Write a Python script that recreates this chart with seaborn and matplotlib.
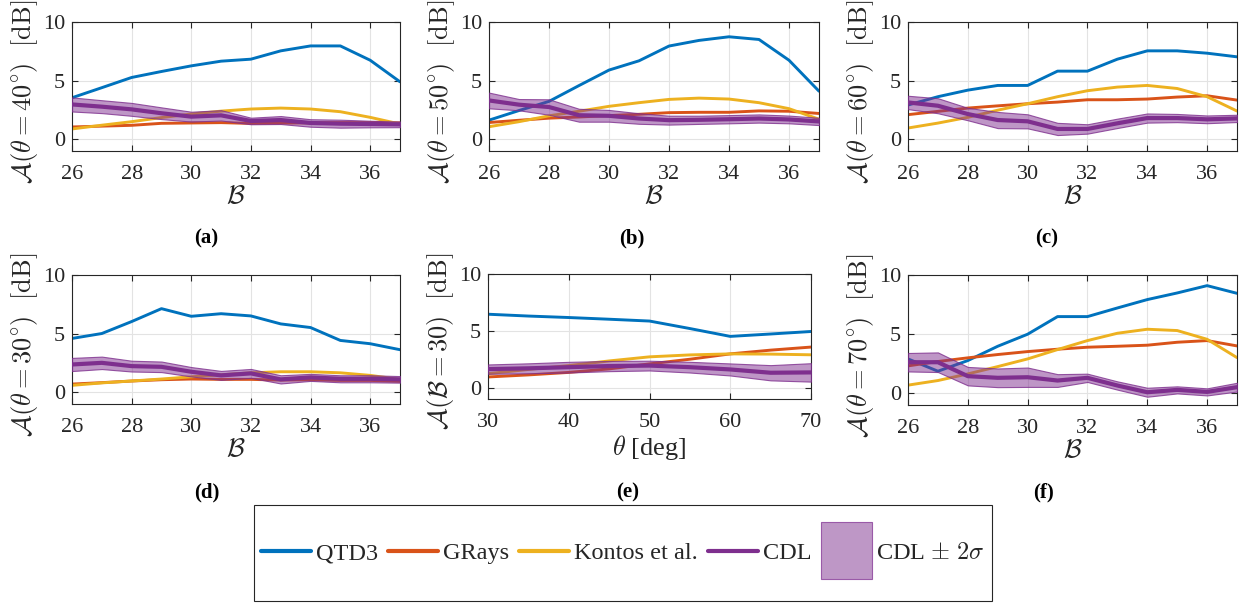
import numpy as np
import pandas as pd
import matplotlib
matplotlib.use("Agg")
import matplotlib.pyplot as plt
import matplotlib.patches as mpatches
from matplotlib.lines import Line2D
from matplotlib.legend_handler import HandlerPatch
import seaborn as sns

# x-Achsen
B = [26, 27, 28, 29, 30, 31, 32, 33, 34, 35, 36, 37]
theta = [30, 35, 40, 45, 50, 55, 60, 65, 70]

methods = ["QTD3", "GRays", "Kontos et al."]
colors = {"QTD3": "#0072BD", "GRays": "#D95319", "Kontos et al.": "#EDB120"}
cdl_color = "#7E2F8E"

# (a) theta = 40
qtd3_a = [3.54, 4.4, 5.27, 5.78, 6.26, 6.66, 6.83, 7.54, 7.96, 7.96, 6.74, 4.9]
grays_a = [1.05, 1.12, 1.19, 1.36, 1.39, 1.42, 1.35, 1.38, 1.4, 1.42, 1.42, 1.4]
kontos_a = [0.88, 1.2, 1.5, 1.85, 2.15, 2.4, 2.58, 2.66, 2.58, 2.35, 1.87, 1.3]
cdl_a = [2.97, 2.78, 2.55, 2.22, 1.93, 2.04, 1.56, 1.64, 1.39, 1.33, 1.3, 1.27]
cdl2s_a = [0.6, 0.55, 0.55, 0.5, 0.42, 0.44, 0.28, 0.34, 0.32, 0.34, 0.28, 0.24]

# (b) theta = 50
qtd3_b = [1.63, 2.45, 3.23, 4.58, 5.9, 6.69, 7.95, 8.43, 8.74, 8.51, 6.74, 4.1]
grays_b = [1.43, 1.62, 1.8, 1.9, 2.02, 2.13, 2.27, 2.3, 2.3, 2.42, 2.39, 2.2]
kontos_b = [1.07, 1.5, 2.0, 2.39, 2.81, 3.12, 3.4, 3.51, 3.43, 3.12, 2.61, 1.71]
cdl_b = [3.31, 2.95, 2.75, 2.05, 2.0, 1.77, 1.63, 1.66, 1.71, 1.77, 1.69, 1.52]
cdl2s_b = [0.67, 0.48, 0.66, 0.55, 0.5, 0.45, 0.38, 0.35, 0.35, 0.35, 0.33, 0.31]

# (c) theta = 60
qtd3_c = [2.92, 3.63, 4.19, 4.59, 4.59, 5.81, 5.81, 6.83, 7.54, 7.54, 7.34, 7.03]
grays_c = [2.1, 2.38, 2.66, 2.85, 3.03, 3.17, 3.37, 3.37, 3.43, 3.6, 3.71, 3.34]
kontos_c = [0.96, 1.38, 1.87, 2.48, 3.03, 3.63, 4.14, 4.45, 4.59, 4.33, 3.63, 2.41]
cdl_c = [3.14, 2.86, 2.15, 1.64, 1.53, 0.88, 0.88, 1.36, 1.81, 1.81, 1.7, 1.78]
cdl2s_c = [0.57, 0.64, 0.53, 0.69, 0.6, 0.52, 0.4, 0.4, 0.39, 0.35, 0.33, 0.31]

# (d) theta = 30
qtd3_d = [4.59, 5.01, 6.03, 7.13, 6.48, 6.7, 6.51, 5.83, 5.52, 4.42, 4.14, 3.63]
grays_d = [0.7, 0.82, 0.96, 1.07, 1.13, 1.1, 1.1, 1.04, 1.07, 1.01, 1.01, 0.93]
kontos_d = [0.59, 0.8, 0.96, 1.13, 1.32, 1.49, 1.66, 1.75, 1.75, 1.66, 1.44, 1.1]
cdl_d = [2.37, 2.51, 2.23, 2.17, 1.75, 1.44, 1.61, 1.1, 1.27, 1.15, 1.15, 1.1]
cdl2s_d = [0.56, 0.53, 0.46, 0.45, 0.4, 0.38, 0.38, 0.35, 0.3, 0.3, 0.3, 0.28]

# (e) B = 30, ueber theta
qtd3_e = [6.46, 6.3, 6.17, 6.02, 5.86, 5.2, 4.51, 4.72, 4.94]
grays_e = [0.94, 1.12, 1.34, 1.65, 2.09, 2.5, 2.97, 3.3, 3.57]
kontos_e = [1.23, 1.6, 1.94, 2.35, 2.71, 2.88, 2.97, 2.95, 2.89]
cdl_e = [1.63, 1.7, 1.8, 1.9, 1.94, 1.8, 1.6, 1.31, 1.34]
cdl2s_e = [0.41, 0.44, 0.47, 0.45, 0.43, 0.47, 0.53, 0.67, 0.81]

# (f) theta = 70
qtd3_f = [2.9, 1.86, 2.76, 3.97, 4.99, 6.48, 6.48, 7.21, 7.92, 8.48, 9.1, 8.45]
grays_f = [2.31, 2.68, 2.99, 3.27, 3.52, 3.72, 3.89, 3.97, 4.06, 4.31, 4.45, 4.0]
kontos_f = [0.68, 1.07, 1.63, 2.25, 2.9, 3.69, 4.45, 5.07, 5.41, 5.3, 4.56, 3.01]
cdl_f = [2.62, 2.62, 1.44, 1.3, 1.35, 1.07, 1.3, 0.65, 0.08, 0.28, 0.11, 0.51]
cdl2s_f = [0.78, 0.83, 0.78, 0.79, 0.82, 0.54, 0.35, 0.35, 0.38, 0.3, 0.3, 0.37]

sns.set_style("ticks")
plt.rcParams['font.family'] = ['Liberation Serif', 'DejaVu Serif']
plt.rcParams['mathtext.fontset'] = 'cm'

fig = plt.figure(figsize=(12.45, 6.04), dpi=100)
W, H = 1245, 604


def add_ax(x0, y0, x1, y1):
    return fig.add_axes([x0 / W, 1 - y1 / H, (x1 - x0) / W, (y1 - y0) / H])


def panel(ax, x, qtd3, grays, kontos, cdl, cdl2s, xlabel, ylabel, xticks):
    df = pd.DataFrame({
        'x': list(x) * 3,
        'A': list(qtd3) + list(grays) + list(kontos),
        'method': [m for m in methods for _ in x],
    })
    sns.lineplot(data=df, x='x', y='A', hue='method', hue_order=methods,
                 palette=colors, linewidth=2.1, legend=False, ax=ax)
    cdl = np.array(cdl)
    s = np.array(cdl2s)
    ax.fill_between(x, cdl - s, cdl + s, facecolor=(0.494, 0.184, 0.557, 0.5),
                    edgecolor=(0.494, 0.184, 0.557, 0.8), linewidth=0.8, zorder=3)
    sns.lineplot(x=x, y=cdl, color=cdl_color, linewidth=3.0, ax=ax, zorder=4)
    ax.set_xlim(x[0], x[-1])
    ax.set_ylim(-1, 10)
    ax.set_xticks(xticks)
    ax.set_yticks([0, 5, 10])
    ax.grid(True, color='#E3E3E3', linewidth=0.8)
    ax.set_axisbelow(True)
    for sp in ax.spines.values():
        sp.set_visible(True)
        sp.set_color('#262626')
        sp.set_linewidth(0.8)
    ax.tick_params(direction='in', top=True, right=True, length=4, width=0.8,
                   colors='#262626', labelsize=16)
    ax.tick_params(axis='x', pad=10)
    ax.tick_params(axis='y', pad=5)
    ax.set_xlabel(xlabel, fontsize=19, color='#262626', labelpad=1)
    ax.set_ylabel(ylabel, fontsize=19, color='#262626', labelpad=2)
    ax.yaxis.label.set_y(0.457)


Bt = [26, 28, 30, 32, 34, 36]
xl = r'$\mathcal{B}$'

ax = add_ax(72, 22, 400, 151)
panel(ax, B, qtd3_a, grays_a, kontos_a, cdl_a, cdl2s_a, xl,
      r'$\mathcal{A}(\theta = 40^{\circ})\ \ [\mathrm{dB}]$', Bt)
ax = add_ax(489, 22, 819, 151)
panel(ax, B, qtd3_b, grays_b, kontos_b, cdl_b, cdl2s_b, xl,
      r'$\mathcal{A}(\theta = 50^{\circ})\ \ [\mathrm{dB}]$', Bt)
ax = add_ax(908, 22, 1237, 151)
panel(ax, B, qtd3_c, grays_c, kontos_c, cdl_c, cdl2s_c, xl,
      r'$\mathcal{A}(\theta = 60^{\circ})\ \ [\mathrm{dB}]$', Bt)
ax = add_ax(72, 275, 400, 404)
panel(ax, B, qtd3_d, grays_d, kontos_d, cdl_d, cdl2s_d, xl,
      r'$\mathcal{A}(\theta = 30^{\circ})\ \ [\mathrm{dB}]$', Bt)
ax = add_ax(488, 274, 811, 399)
panel(ax, theta, qtd3_e, grays_e, kontos_e, cdl_e, cdl2s_e, r'$\theta$ [deg]',
      r'$\mathcal{A}(\mathcal{B} = 30)\ \ [\mathrm{dB}]$', [30, 40, 50, 60, 70])
ax = add_ax(908, 275, 1237, 405)
panel(ax, B, qtd3_f, grays_f, kontos_f, cdl_f, cdl2s_f, xl,
      r'$\mathcal{A}(\theta = 70^{\circ})\ \ [\mathrm{dB}]$', Bt)

# Unterabbildungs-Beschriftungen
for lab, px, py in [("(a)", 206, 238), ("(b)", 632, 238), ("(c)", 1047, 238),
                    ("(d)", 207, 492), ("(e)", 628, 492), ("(f)", 1043, 492)]:
    fig.text(px / W, 1 - py / H, lab, ha='center', va='center',
             fontsize=15, fontweight='bold', color='#000000')


# Legende mit hohem Patch fuer das 2-sigma-Band
def tall_box(legend, orig_handle, xdescent, ydescent, width, height, fontsize):
    w, h = 37, 41
    return mpatches.Rectangle((-xdescent + (width - w) / 2, -ydescent + height / 2 - h / 2), w, h)


handles = [Line2D([], [], color=colors[m], linewidth=3) for m in methods]
handles.append(Line2D([], [], color=cdl_color, linewidth=3))
handles.append(mpatches.Patch(facecolor='#BE97C6', edgecolor='#9A5AA8', linewidth=0.8))
labels = methods + ["CDL", r"CDL $\pm\ 2\sigma$"]
fig.legend(handles, labels, loc='center', bbox_to_anchor=((254 + 992) / 2 / W, 1 - 553 / H),
           ncol=5, frameon=False, fontsize=17.5, handlelength=2.05, handletextpad=0.2,
           columnspacing=0.42, handler_map={mpatches.Patch: HandlerPatch(patch_func=tall_box)})
fig.add_artist(mpatches.Rectangle((254 / W, 1 - 601 / H), (992 - 254) / W, 96 / H,
                                  transform=fig.transFigure, fill=False,
                                  edgecolor='#262626', linewidth=0.8))

plt.savefig("out.png", dpi=100)
